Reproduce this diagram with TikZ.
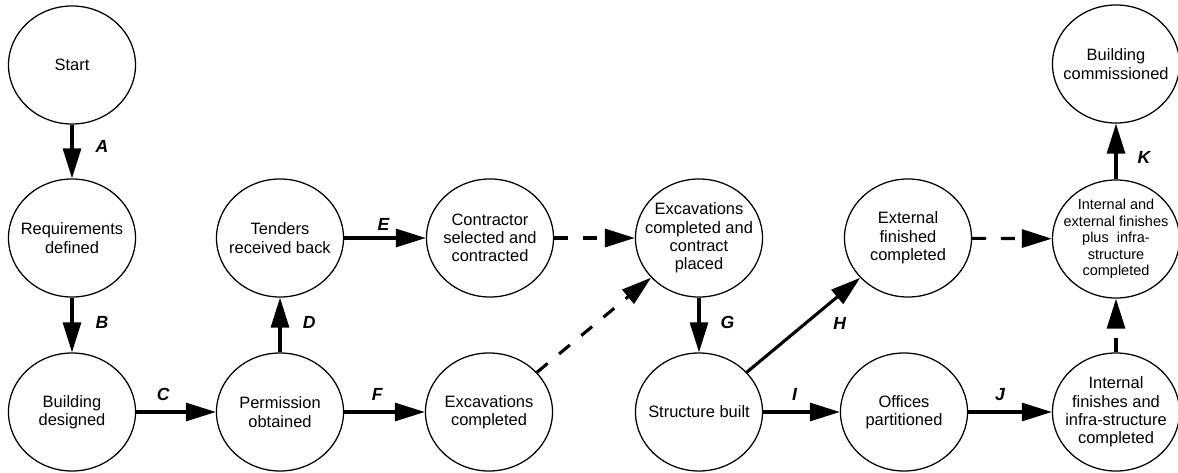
\documentclass[tikz,border=0pt]{standalone}
\usepackage{fontspec}
\setmainfont{Liberation Sans}
\usetikzlibrary{arrows.meta,shapes.geometric}

\begin{document}
\begin{tikzpicture}[x=0.025cm, y=-0.025cm,
	event/.style={draw, ellipse, line width=0.9pt, minimum width=3.175cm, minimum height=2.95cm,
		inner xsep=-5mm, inner ysep=-3mm, align=center, font=\fontsize{11.7}{13}\selectfont},
	act/.style={line width=2.2pt, -{Triangle[length=7.5mm,width=4.5mm]}},
	dummy/.style={act, dash pattern=on 3.5mm off 3.7mm},
	lbl/.style={inner sep=0pt, font=\fontsize{12.5}{14}\selectfont\bfseries\itshape}]
	\useasboundingbox (0,0) rectangle (1178,473);
	% events
	\node[event] (start) at (72,65) {Start};
	\node[event] (req) at (72,238) {Requirements\\defined};
	\node[event] (design) at (72,412) {Building\\designed};
	\node[event] (tenders) at (280,238) {Tenders\\received back};
	\node[event] (permit) at (280,412) {Permission\\obtained};
	\node[event] (contractor) at (490,238) {Contractor\\selected and\\contracted};
	\node[event] (excav) at (489,412) {Excavations\\completed};
	\node[event] (placed) at (699,238) {Excavations\\completed and\\contract\\placed};
	\node[event] (struct) at (699,412) {Structure built};
	\node[event] (external) at (908,238) {External\\finished\\completed};
	\node[event] (offices) at (904,412) {Offices\\partitioned};
	\node[event, font=\fontsize{10.3}{11.8}\selectfont] (internal) at (1116,239) {Internal and\\external finishes\\plus\ \ infra-\\structure\\completed};
	\node[event] (finishes) at (1116,412) {Internal\\finishes and\\infra-structure\\completed};
	\node[event] (commission) at (1116,64) {Building\\commissioned};
	% activities
	\draw[act] (start) -- node[lbl, pos=.41, right=5.5mm] {A} (req);
	\draw[act] (req) -- node[lbl, pos=.46, right=5.5mm] {B} (design);
	\draw[act] (design) -- node[lbl, pos=.34, above=2.5mm] {C} (permit);
	\draw[act] (permit) -- node[lbl, pos=.54, right=5.3mm] {D} (tenders);
	\draw[act] (tenders) -- node[lbl, pos=.48, above=1.5mm] {E} (contractor);
	\draw[act] (permit) -- node[lbl, pos=.41, above=2.5mm] {F} (excav);
	\draw[act] (placed) -- node[lbl, pos=.46, right=5mm] {G} (struct);
	\draw[act] (struct) -- node[lbl, pos=.52, right=6.5mm] {H} (external);
	\draw[act] (struct) -- node[lbl, pos=.41, above=2.5mm] {I} (offices);
	\draw[act] (offices) -- node[lbl, pos=.38, above=2.5mm] {J} (finishes);
	\draw[act] (internal) -- node[lbl, pos=.4, right=5mm] {K} (commission);
	% dummies
	\draw[dummy] (contractor) -- (placed);
	\draw[dummy] (excav) -- (placed);
	\draw[dummy] (external) -- (internal);
	\draw[dummy] (finishes) -- (internal);
\end{tikzpicture}
\end{document}
